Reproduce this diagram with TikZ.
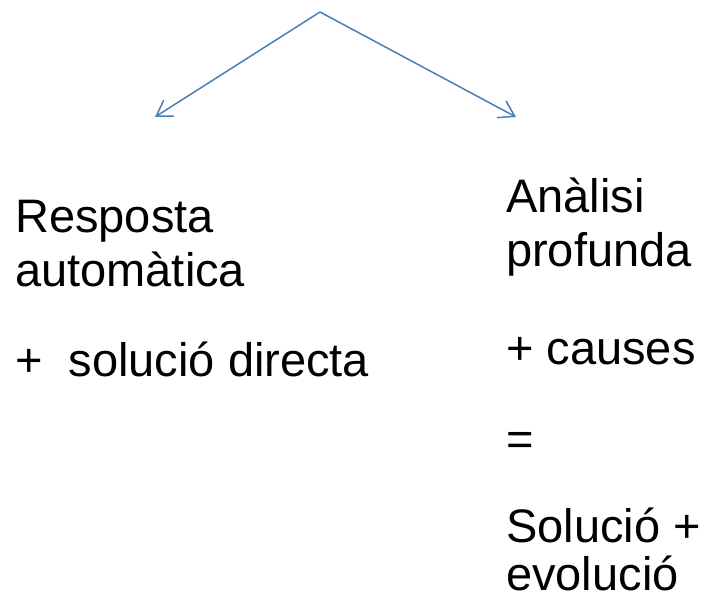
\documentclass[tikz,border=0pt]{standalone}
\usepackage{fontspec}
\setmainfont{Liberation Sans}
\usetikzlibrary{arrows.meta}
\definecolor{arrowblue}{HTML}{4A7EBB}
\tikzstyle{txt}= [anchor=base west, inner sep=0pt, font=\fontsize{47}{54}\selectfont]
\tikzstyle{branch}= [draw=arrowblue, line width=1.5pt, -{Straight Barb[length=15pt, width=19pt, line width=1.5pt]}]

\begin{document}
\begin{tikzpicture}[x=1pt, y=1pt]
				\useasboundingbox (0, 0) rectangle (709, 602);
				\coordinate (top) at (320, 590);
				\coordinate (left) at (155, 485);
				\coordinate (right) at (516, 485);

				\node[txt] (l1) at (15, 369) {Resposta};
				\node[txt] (l2) at (15, 315) {automàtica};
				\node[txt] (l3) at (15, 225) {+\ \ solució directa};

				\node[txt] (r1) at (506, 389) {Anàlisi};
				\node[txt] (r2) at (506, 335) {profunda};
				\node[txt] (r3) at (506, 237) {+ causes};
				\node[txt] (r4) at (506, 146) {=};
				\node[txt] (r5) at (506, 59) {Solució +};
				\node[txt] (r6) at (506, 12) {evolució};

				\draw[branch] (top) -- (left);
				\draw[branch] (top) -- (right);
			\end{tikzpicture}
\end{document}
